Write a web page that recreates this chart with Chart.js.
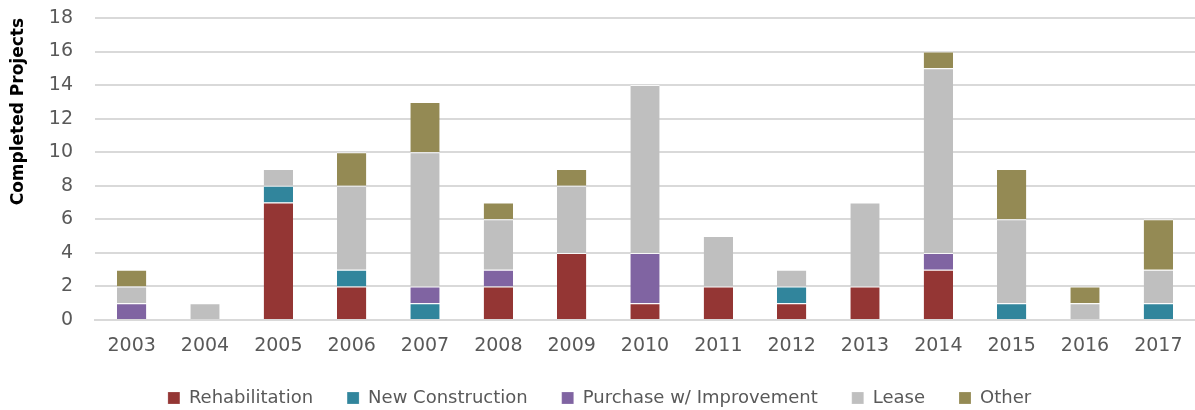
<!DOCTYPE html>
<html><head><meta charset="utf-8">
<script src="https://cdn.jsdelivr.net/npm/chart.js@4/dist/chart.umd.min.js"></script>
<style>html,body{margin:0;padding:0;background:#fff}#wrap{width:1195px;height:410px}</style>
</head><body><div id="wrap"><canvas id="c" width="1195" height="410"></canvas></div>
<script>
const categories = ["2003","2004","2005","2006","2007","2008","2009","2010","2011","2012","2013","2014","2015","2016","2017"];
const rehabilitation = [0,0,7,2,0,2,4,1,2,1,2,3,0,0,0];
const newConstruction = [0,0,1,1,1,0,0,0,0,1,0,0,1,0,1];
const purchaseImprovement = [1,0,0,0,1,1,0,3,0,0,0,1,0,0,0];
const lease = [1,1,1,5,8,3,4,10,3,1,5,11,5,1,2];
const other = [1,0,0,2,3,1,1,0,0,0,0,1,3,1,3];
const yTicks = [0,2,4,6,8,10,12,14,16,18];

const FONT = "'DejaVu Sans', sans-serif";
const mk = (label, data, color) => ({label, data, backgroundColor: color, borderColor:'rgba(255,255,255,0.8)', borderWidth:{top:1,bottom:0,left:0,right:0}, barPercentage:0.4, categoryPercentage:1.0});
const legendHeightFix = {
  id:'legendHeightFix',
  afterInit(chart){
    const lg = chart.legend;
    const f = lg.fit;
    lg.fit = function(){ f.call(this); this.height = 55; };
  }
};
new Chart(document.getElementById('c'), {
  type:'bar',
  data:{labels:categories, datasets:[
    mk('Rehabilitation', rehabilitation, '#943634'),
    mk('New Construction', newConstruction, '#31859C'),
    mk('Purchase w/ Improvement', purchaseImprovement, '#8064A2'),
    mk('Lease', lease, '#BFBFBF'),
    mk('Other', other, '#948A54')
  ]},
  plugins:[legendHeightFix],
  options:{
    responsive:false, animation:false,
    layout:{padding:{top:0,left:4,right:0,bottom:0}},
    plugins:{
      legend:{position:'bottom', labels:{boxWidth:12, boxHeight:12, padding:34, color:'#595959', font:{family:FONT,size:18}}},
      tooltip:{enabled:false}
    },
    scales:{
      x:{stacked:true, grid:{display:false, tickLength:11}, border:{color:'#D9D9D9', width:2},
         afterFit:(s)=>{s.height=35;},
         ticks:{color:'#595959', font:{family:FONT,size:19}, padding:4}},
      y:{stacked:true, min:0, max:18, afterBuildTicks:(s)=>{s.ticks=yTicks.map(v=>({value:v}));},
         afterFit:(s)=>{s.width=91; s.paddingTop=18;},
         grid:{color:'#D9D9D9', lineWidth:2, drawTicks:true, tickLength:20, tickColor:'rgba(0,0,0,0)'}, border:{display:false},
         ticks:{color:'#595959', font:{family:FONT,size:19}, padding:2},
         title:{display:true, align:'end', text:'Completed Projects', color:'#000', font:{family:FONT,size:17,weight:'bold'}, padding:{top:4,bottom:0}}}
    }
  }
});
</script></body></html>
